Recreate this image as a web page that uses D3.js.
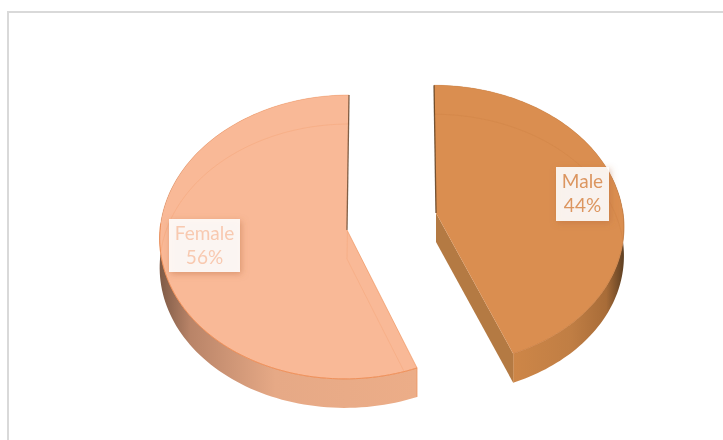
<!DOCTYPE html>
<html><head><meta charset="utf-8">
<script src="https://cdn.jsdelivr.net/npm/d3@7/dist/d3.min.js"></script>
<style>html,body{margin:0;padding:0;background:#fff;overflow:hidden}svg{display:block;filter:blur(0.35px)}</style>
</head><body><svg id="c" width="723" height="440"></svg>
<script>
const categories = ["Male", "Female"];
const values = [44, 56];
const labels = ["44%", "56%"];
const topColors = ["#DA8E50", "#F9B997"];
const edgeColors = ["#C97F42", "#EE8A50"];
const textColors = ["#DC9660", "#F8C9B0"];
const wallStops = [
  [["0","#CF8748"],["0.55","#C07E44"],["0.85","#A86C38"],["1","#5E3F22"]],
  [["0","#7E5A46"],["0.12","#B98468"],["0.45","#E6A986"],["1","#ECAD88"]]
];
// placement of each exploded slice
const apexX = [436, 347], apexY = [213, 230];
const radiusX = [187, 187], radiusY = [139, 141.6];
const persp = [0.088, 0.049], shear = [0.0156, -0.015];
const depth = [29, 29];
const boxes = [[556,167,53,54],[169,219,71,53]];

const svg = d3.select("#c");
const defs = svg.append("defs");
const f = defs.append("filter").attr("id","sh").attr("x","-30%").attr("y","-30%").attr("width","160%").attr("height","160%");
f.append("feDropShadow").attr("dx",1.5).attr("dy",2).attr("stdDeviation",3).attr("flood-color","#B5683A").attr("flood-opacity",0.5);

// frame
svg.append("path").attr("d",d3.line()([[8,440],[8,12],[723,12]])).attr("fill","none").attr("stroke","#D9D9D9").attr("stroke-width",2);

const pie = d3.pie().sort(null)(values);
pie.forEach((d,i)=>{
  const proj = t=>{
    const u=Math.sin(t), v=Math.cos(t), w=1+persp[i]*v;
    const y=apexY[i]-radiusY[i]*v/w;
    return [apexX[i]+radiusX[i]*u/w+shear[i]*(y-apexY[i]), y];
  };
  const n=120, angle=k=>d.startAngle+(d.endAngle-d.startAngle)*k/n;
  const rim=d3.range(n+1).map(k=>proj(angle(k)));
  const front=d3.range(n+1).filter(k=>Math.cos(angle(k))<0.05).map(k=>rim[k]);
  const down=p=>[p[0],p[1]+depth[i]];
  const apex=[apexX[i],apexY[i]];
  const line=d3.line();
  const xs=rim.map(p=>p[0]);
  const g=defs.append("linearGradient").attr("id","w"+i).attr("gradientUnits","userSpaceOnUse")
    .attr("x1",i==0?apexX[i]+70:d3.min(xs)).attr("x2",i==0?d3.max(xs):apexX[i]+70).attr("y1",0).attr("y2",0);
  wallStops[i].forEach(s=>g.append("stop").attr("offset",s[0]).attr("stop-color",s[1]));
  const G=svg.append("g").attr("class","slice");
  // rim wall
  G.append("path").attr("d",line(rim.concat(rim.map(down).reverse()))+"Z").attr("fill",`url(#w${i})`);
  // visible cut wall
  if(i==0){
    const c=rim[n];
    G.append("path").attr("d",line([apex,c,down(c),down(apex)])+"Z").attr("fill","#B47A43");
  }
  // top face
  const face=[apex].concat(rim);
  const clip=defs.append("clipPath").attr("id","cp"+i);
  clip.append("path").attr("d",line(face)+"Z");
  G.append("path").attr("d",line(face)+"Z").attr("fill",topColors[i]);
  // faint inner bevel
  G.append("path").attr("clip-path",`url(#cp${i})`).attr("d",line(face.map(down))+"Z")
    .attr("fill","none").attr("stroke",edgeColors[i]).attr("stroke-opacity",i==0?0.28:0.2).attr("stroke-width",1);
  // rim outlines: soft at the back, firmer at the front
  G.append("path").attr("d",line(rim)).attr("fill","none").attr("stroke",edgeColors[i]).attr("stroke-opacity",0.35).attr("stroke-width",1);
  G.append("path").attr("d",line(front)).attr("fill","none").attr("stroke",edgeColors[i]).attr("stroke-opacity",i==0?0.6:0.8).attr("stroke-width",1);
  // dark seam along the vertical cut
  const topPt=i==0?rim[0]:rim[n];
  G.append("path").attr("d",line([topPt,apex])).attr("fill","none").attr("stroke",i==0?"#5E4022":"#6B4A30").attr("stroke-opacity",0.85).attr("stroke-width",1.3);
  if(i==1){
    const c=rim[0];
    G.append("path").attr("d",line([apex,c,down(c)])).attr("fill","none").attr("stroke",edgeColors[i]).attr("stroke-opacity",0.6).attr("stroke-width",1);
  }
});
// labels
categories.forEach((c,i)=>{
  const b=boxes[i];
  const L=svg.append("g").attr("class","label");
  L.append("rect").attr("x",b[0]).attr("y",b[1]).attr("width",b[2]).attr("height",b[3])
    .attr("fill","#FFFFFF").attr("fill-opacity",0.88).attr("filter","url(#sh)");
  const t=L.append("text").attr("text-anchor","middle").attr("font-family","Lato, Carlito, sans-serif").attr("font-size",19).attr("fill",textColors[i]);
  t.append("tspan").attr("x",b[0]+b[2]/2).attr("y",b[1]+20.5).text(c);
  t.append("tspan").attr("x",b[0]+b[2]/2).attr("y",b[1]+44.5).text(labels[i]);
});
</script></body></html>
